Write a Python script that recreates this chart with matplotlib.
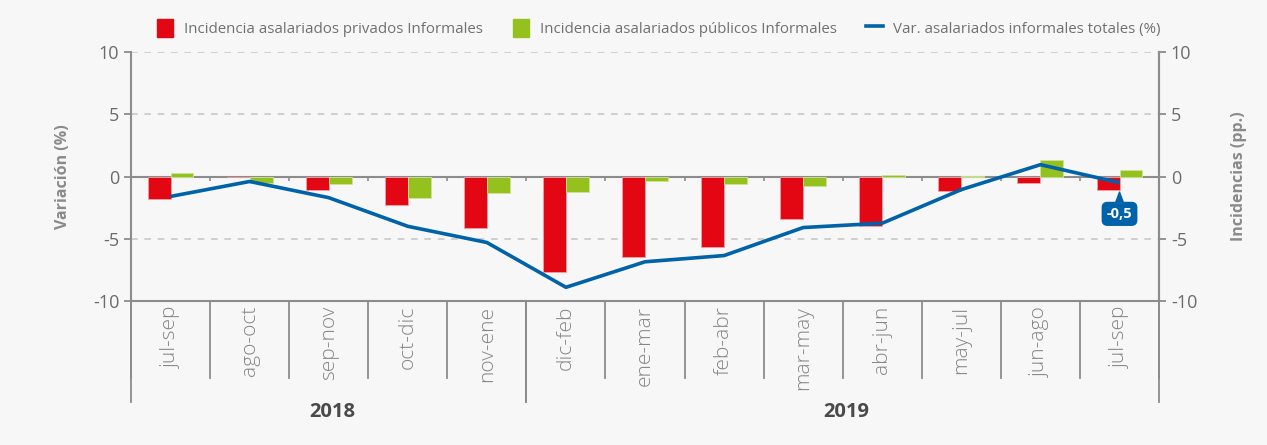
import matplotlib.pyplot as plt
import matplotlib.transforms as mtransforms
from matplotlib.patches import Patch
from matplotlib.lines import Line2D
import numpy as np

plt.rcParams['font.family'] = ['Open Sans', 'DejaVu Sans']

periods = ["jul-sep", "ago-oct", "sep-nov", "oct-dic", "nov-ene", "dic-feb", "ene-mar",
           "feb-abr", "mar-may", "abr-jun", "may-jul", "jun-ago", "jul-sep"]
years = ["2018", "2019"]
year_span = [(0, 5), (5, 13)]

privados = [-1.8, 0.0, -1.1, -2.3, -4.1, -7.7, -6.5, -5.7, -3.4, -4.0, -1.2, -0.5, -1.05]
publicos = [0.3, -0.5, -0.6, -1.7, -1.3, -1.25, -0.4, -0.6, -0.75, 0.15, 0.05, 1.35, 0.55]
var_total = [-1.6, -0.4, -1.7, -4.0, -5.3, -8.9, -6.85, -6.35, -4.1, -3.75, -1.05, 0.95, -0.5]

RED = "#e30613"
GREEN = "#95c11f"
BLUE = "#0062a8"
GRAY = "#8c8c8c"
TXT = "#6b6b6b"
BG = "#f7f7f7"

fig = plt.figure(figsize=(12.67, 4.45), dpi=100, facecolor=BG)
ax = fig.add_axes([0.1034, 0.3236, 0.8114, 0.5595])
ax.set_facecolor(BG)

x = np.arange(len(periods))
w = 0.29
ax.bar(x - w / 2, privados, w, color=RED, edgecolor="#f2a0a5", linewidth=0.6, zorder=3)
ax.bar(x + w / 2, publicos, w, color=GREEN, edgecolor="#cde39a", linewidth=0.6, zorder=3)
ax.plot(x, var_total, color=BLUE, lw=2.6, zorder=4, solid_capstyle="butt")

ax.set_xlim(-0.5, len(periods) - 0.5)
ax.set_ylim(-10, 10)
ax.set_yticks([-10, -5, 0, 5, 10])
ax.set_yticklabels(["-10", "-5", "0", "5", "10"])
for yv in [5, 10, -5]:
    ax.axhline(yv, color="#c8c8c8", lw=1.2, ls=(0, (4, 4)), zorder=1)
ax.axhline(0, color=GRAY, lw=1.5, zorder=2)
ax.vlines(np.arange(len(periods) - 1) + 0.5, -0.35, 0, color=GRAY, lw=1.2, zorder=2)

ax.spines["top"].set_visible(False)
for s in ["left", "right", "bottom"]:
    ax.spines[s].set_color(GRAY)
    ax.spines[s].set_linewidth(1.5)
ax.set_xticks([])
ax.tick_params(axis="y", colors=GRAY, labelcolor=TXT, labelsize=13, length=5, width=1.3)
ax.set_ylabel("Variación (%)", fontsize=11.5, fontweight="bold", color="#8a8a8a", labelpad=16)

ax2 = ax.twinx()
ax2.set_ylim(-10, 10)
ax2.set_yticks([-10, -5, 0, 5, 10])
ax2.set_yticklabels(["-10", "-5", "0", "5", "10"])
for s in ["top", "left", "bottom"]:
    ax2.spines[s].set_visible(False)
ax2.spines["right"].set_color(GRAY)
ax2.spines["right"].set_linewidth(1.5)
ax2.tick_params(axis="y", colors=GRAY, labelcolor=TXT, labelsize=13, length=5, width=1.3)
ax2.set_ylabel("Incidencias (pp.)", fontsize=11.5, fontweight="bold", color="#8a8a8a", labelpad=24)

# category area below the axis
trans = mtransforms.blended_transform_factory(ax.transData, ax.transAxes)
for i, p in enumerate(periods):
    ax.text(i, -0.02, p, transform=trans, rotation=90, ha="center", va="top",
            fontsize=15, color="#858585", fontweight="light")
for b in np.arange(len(periods) + 1) - 0.5:
    ax.plot([b, b], [0, -0.31], transform=trans, color=GRAY, lw=1.3, clip_on=False)
for (a, b), yr in zip(year_span, years):
    ax.plot([a - 0.5, a - 0.5], [0, -0.405], transform=trans, color=GRAY, lw=1.3, clip_on=False)
    ax.plot([b - 0.5, b - 0.5], [0, -0.405], transform=trans, color=GRAY, lw=1.3, clip_on=False)
    ax.text((a + b - 1) / 2 + 0.05, -0.445, yr, transform=trans, ha="center", va="center",
            fontsize=14.5, fontweight="bold", color="#4a4a4a")

# last value callout
ax.annotate("-0,5", xy=(x[-1], -1.25), xytext=(x[-1], -3.0), ha="center", va="center",
            fontsize=10.5, fontweight="bold", color="white", zorder=6,
            bbox=dict(boxstyle="round,pad=0.3,rounding_size=0.35", fc=BLUE, ec=BLUE),
            arrowprops=dict(arrowstyle="wedge,tail_width=0.5,shrink_factor=0.5",
                            fc=BLUE, ec=BLUE, shrinkA=0, shrinkB=0))

handles = [Patch(facecolor=RED, edgecolor=RED),
           Patch(facecolor=GREEN, edgecolor=GREEN),
           Line2D([0], [0], color=BLUE, lw=2.6)]
labels = ["Incidencia asalariados privados Informales",
          "Incidencia asalariados públicos Informales",
          "Var. asalariados informales totales (%)"]
fig.legend(handles, labels, loc="center", bbox_to_anchor=(0.52, 0.937), ncol=3,
           frameon=False, fontsize=10.8, labelcolor="#707070", handlelength=1.1,
           handleheight=1.5, handletextpad=0.7, columnspacing=2.0)

fig.savefig("out.png", dpi=100, facecolor=BG)
